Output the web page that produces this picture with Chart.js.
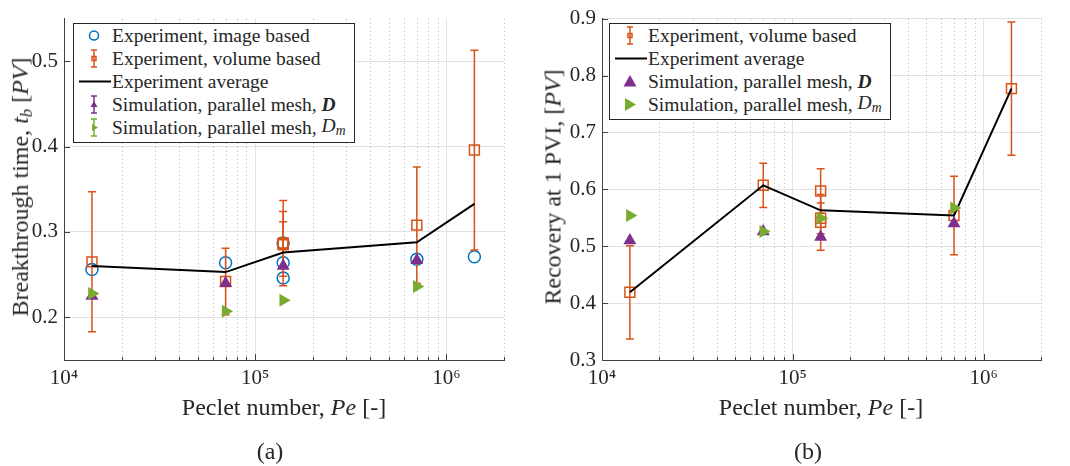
<!DOCTYPE html>
<html>
<head>
<meta charset="utf-8">
<script src="https://cdn.jsdelivr.net/npm/chart.js@4.4.1/dist/chart.umd.min.js"></script>
<style>
  body { margin: 0; background: #fff; font-family: "Liberation Serif", "Times New Roman", serif; color: #262626; }
  #wrap { position: relative; width: 1070px; height: 466px; overflow: hidden; }
  .panel { position: absolute; top: 0; width: 535px; height: 466px; }
  .panel canvas { position: absolute; left: 0; top: 0; }
  .ytitle, .xtitle, .caption { position: absolute; white-space: nowrap; font-size: 24px; }
  .ytitle { transform: translate(-50%, -50%) rotate(-90deg); }
  .xtitle, .caption { transform: translate(-50%, -50%); }
  .legend { position: absolute; top: 23px; background: #fff; border: 1px solid #262626; padding: 0 8px 3px 0; font-size: 19.5px; }
  .legend .row { height: 23px; display: flex; align-items: center; }
  .legend svg { width: 34px; height: 23px; margin-left: 3px; margin-right: 1px; flex: none; }
  sub { font-size: 70%; vertical-align: -0.25em; }
</style>
</head>
<body>
<div id="wrap">
  <div class="panel" style="left:0">
    <canvas id="chartA" width="535" height="466"></canvas>
    <div class="ytitle" style="left:22px; top:187px">Breakthrough time, <i>t<sub>b</sub></i> [<i>PV</i>]</div>
    <div class="xtitle" style="left:284px; top:407px">Peclet number, <i>Pe</i> [-]</div>
    <div class="caption" style="left:270px; top:451px">(a)</div>
    <div class="legend" style="left:73px">
      <div class="row"><svg viewBox="0 0 34 23"><circle cx="17" cy="11.5" r="4.5" fill="none" stroke="#0072BD" stroke-width="1.5"/></svg>Experiment, image based</div>
      <div class="row"><svg viewBox="0 0 34 23"><path d="M17 3V20M14 3H20M14 20H20" stroke="#D95319" stroke-width="1.5"/><rect x="15" y="9.5" width="4" height="4" fill="none" stroke="#D95319" stroke-width="1.5"/></svg>Experiment, volume based</div>
      <div class="row"><svg viewBox="0 0 34 23"><path d="M2 11.5H34" stroke="#000" stroke-width="2"/></svg>Experiment average</div>
      <div class="row"><svg viewBox="0 0 34 23"><path d="M17 3V20M14 3H20M14 20H20" stroke="#7E2F8E" stroke-width="1.5"/><path d="M17 8L20.5 14H13.5Z" fill="#7E2F8E"/></svg>Simulation, parallel mesh, <b><i>&nbsp;D</i></b></div>
      <div class="row"><svg viewBox="0 0 34 23"><path d="M17 3V20M14 3H20M14 20H20" stroke="#77AC30" stroke-width="1.5"/><path d="M15 8L21 11.5L15 15Z" fill="#77AC30"/></svg>Simulation, parallel mesh, <i>&nbsp;D<sub>m</sub></i></div>
    </div>
  </div>
  <div class="panel" style="left:535px">
    <canvas id="chartB" width="535" height="466"></canvas>
    <div class="ytitle" style="left:18px; top:187px">Recovery at 1 PVI, [<i>PV</i>]</div>
    <div class="xtitle" style="left:286px; top:407px">Peclet number, <i>Pe</i> [-]</div>
    <div class="caption" style="left:273px; top:451px">(b)</div>
    <div class="legend" style="left:74px">
      <div class="row"><svg viewBox="0 0 34 23"><path d="M17 3V20M14 3H20M14 20H20" stroke="#D95319" stroke-width="1.5"/><rect x="15" y="9.5" width="4" height="4" fill="none" stroke="#D95319" stroke-width="1.5"/></svg>Experiment, volume based</div>
      <div class="row"><svg viewBox="0 0 34 23"><path d="M2 11.5H34" stroke="#000" stroke-width="2"/></svg>Experiment average</div>
      <div class="row"><svg viewBox="0 0 34 23"><path d="M17 5L23.5 16.5H10.5Z" fill="#7E2F8E"/></svg>Simulation, parallel mesh, <b><i>&nbsp;D</i></b></div>
      <div class="row"><svg viewBox="0 0 34 23"><path d="M12 5L23 11.5L12 18Z" fill="#77AC30"/></svg>Simulation, parallel mesh, <i>&nbsp;D<sub>m</sub></i></div>
    </div>
  </div>
</div>
<script>
// Peclet numbers of the experiments / simulations
const peVol = [1.4e4, 7e4, 1.4e5, 1.4e5, 1.4e5, 7e5, 1.4e6];
const peAvg = [1.4e4, 7e4, 1.4e5, 7e5, 1.4e6];
const peSim = [1.4e4, 7e4, 1.4e5, 7e5];

// (a) breakthrough time [PV]
const tbImage = [0.256, 0.264, 0.287, 0.264, 0.246, 0.268, 0.271];
const tbVolume = [0.265, 0.242, 0.287, 0.286, 0.285, 0.308, 0.396];
const tbVolumeErr = [0.082, 0.039, 0.050, 0.038, 0.027, 0.068, 0.117];
const tbAverage = [0.260, 0.253, 0.276, 0.288, 0.333];
const tbSimD = [0.225, 0.240, 0.260, 0.267];
const tbSimDm = [0.228, 0.207, 0.220, 0.236];

// (b) recovery at 1 PVI [PV]
const recVolume = [0.419, 0.607, 0.597, 0.549, 0.542, 0.554, 0.777];
const recVolumeErr = [0.082, 0.039, 0.039, 0.027, 0.049, 0.069, 0.117];
const recAverage = [0.419, 0.607, 0.563, 0.554, 0.777];
const recSimD = [0.510, 0.526, 0.516, 0.540];
const recSimDm = [0.554, 0.526, 0.549, 0.567];

// axes
const xMin = 1e4, xMax = 2e6;
const xTickLabels = { 10000: '10⁴', 100000: '10⁵', 1000000: '10⁶' };
const yTicksA = [0.2, 0.3, 0.4, 0.5];
const yTicksB = [0.3, 0.4, 0.5, 0.6, 0.7, 0.8, 0.9];

const BLUE = '#0072BD', ORANGE = '#D95319', PURPLE = '#7E2F8E', GREEN = '#77AC30';
const AXIS = '#404040';
const SERIF = '"Liberation Serif", "Times New Roman", serif';

Chart.defaults.font.family = SERIF;

const pts = (xs, ys) => xs.map((x, i) => ({ x: x, y: ys[i] }));

// log grid: 1..9 x 10^n
const logGrid = [];
for (let e = 4; e <= 6; e++) {
    for (let m = 1; m <= 9; m++) {
        const v = m * Math.pow(10, e);
        if (v <= xMax) logGrid.push(v);
    }
}

// dotted minor grid, inner tick marks and error bars
const extras = {
    id: 'extras',
    beforeDatasetsDraw(chart) {
        const { ctx, chartArea: a, scales } = chart;
        ctx.save();
        ctx.strokeStyle = '#c8c8c8';
        ctx.lineWidth = 1;
        ctx.setLineDash([1.5, 2.5]);
        scales.x.ticks.forEach(t => {
            if (t.major) return;
            const px = Math.round(scales.x.getPixelForValue(t.value)) + 0.5;
            ctx.beginPath();
            ctx.moveTo(px, a.top);
            ctx.lineTo(px, a.bottom);
            ctx.stroke();
        });
        ctx.setLineDash([]);
        ctx.strokeStyle = AXIS;
        scales.x.ticks.forEach(t => {
            const px = Math.round(scales.x.getPixelForValue(t.value)) + 0.5;
            ctx.beginPath();
            ctx.moveTo(px, a.bottom);
            ctx.lineTo(px, a.bottom - (t.major ? 6 : 3));
            ctx.stroke();
        });
        scales.y.ticks.forEach(t => {
            const py = Math.round(scales.y.getPixelForValue(t.value)) + 0.5;
            ctx.beginPath();
            ctx.moveTo(a.left, py);
            ctx.lineTo(a.left + 6, py);
            ctx.stroke();
        });
        ctx.restore();
    },
    beforeDatasetDraw(chart, args) {
        const ds = chart.data.datasets[args.index];
        if (!ds.yErr) return;
        const { ctx, scales: { x, y } } = chart;
        ctx.save();
        ctx.strokeStyle = ds.borderColor;
        ctx.lineWidth = 1.5;
        ds.data.forEach((p, i) => {
            const px = x.getPixelForValue(p.x);
            const top = y.getPixelForValue(p.y + ds.yErr[i]);
            const bot = y.getPixelForValue(p.y - ds.yErr[i]);
            ctx.beginPath();
            ctx.moveTo(px, top); ctx.lineTo(px, bot);
            ctx.moveTo(px - 4, top); ctx.lineTo(px + 4, top);
            ctx.moveTo(px - 4, bot); ctx.lineTo(px + 4, bot);
            ctx.stroke();
        });
        ctx.restore();
    }
};

function makePanel(id, cfg) {
    const datasets = [];
    if (cfg.image) {
        datasets.push({
            type: 'scatter', data: pts(peVol, cfg.image), order: 5,
            pointStyle: 'circle', pointRadius: 6, borderColor: BLUE, borderWidth: 1.5,
            backgroundColor: 'rgba(0,0,0,0)'
        });
    }
    datasets.push({
        type: 'scatter', data: pts(peVol, cfg.volume), yErr: cfg.volumeErr, order: 4,
        pointStyle: 'rect', pointRadius: 7, borderColor: ORANGE, borderWidth: 1.5,
        backgroundColor: 'rgba(0,0,0,0)'
    });
    datasets.push({
        type: 'line', data: pts(peAvg, cfg.average), order: 3,
        borderColor: '#000', borderWidth: 2, pointRadius: 0, tension: 0, fill: false
    });
    datasets.push({
        type: 'scatter', data: pts(peSim, cfg.simD), order: 2,
        pointStyle: 'triangle', pointRadius: 7.5, borderWidth: 0,
        backgroundColor: PURPLE, borderColor: PURPLE
    });
    datasets.push({
        type: 'scatter', data: pts(peSim, cfg.simDm), order: 1,
        pointStyle: 'triangle', rotation: 90, pointRadius: 7.5, borderWidth: 0,
        backgroundColor: GREEN, borderColor: GREEN
    });

    const tickFont = { family: SERIF, size: 21 };

    new Chart(document.getElementById(id), {
        data: { datasets: datasets },
        plugins: [extras],
        options: {
            responsive: false,
            animation: false,
            devicePixelRatio: 1,
            layout: { padding: { left: 0, top: 14, right: cfg.right, bottom: 0 } },
            plugins: { legend: { display: false }, tooltip: { enabled: false } },
            scales: {
                x: {
                    type: 'logarithmic', min: xMin, max: xMax,
                    afterBuildTicks: s => {
                        s.ticks = logGrid.map(v => ({ value: v, major: !!xTickLabels[v] }));
                    },
                    afterFit: s => { s.height = 106; },
                    grid: {
                        drawTicks: false,
                        color: c => (c.tick && c.tick.major) ? '#e2e2e2' : 'rgba(0,0,0,0)'
                    },
                    border: { color: AXIS, width: 1 },
                    ticks: {
                        autoSkip: false, maxRotation: 0, padding: 6,
                        color: '#262626', font: tickFont,
                        callback: v => xTickLabels[v] || ''
                    }
                },
                y: {
                    min: cfg.yMin, max: cfg.yMax,
                    afterBuildTicks: s => {
                        s.ticks = cfg.yTicks.map(v => ({ value: v }));
                    },
                    afterFit: s => { s.width = cfg.left; },
                    grid: { drawTicks: false, color: '#e2e2e2' },
                    border: { color: AXIS, width: 1 },
                    ticks: {
                        padding: 6, color: '#262626', font: tickFont,
                        callback: v => v.toFixed(1)
                    }
                }
            }
        }
    });
}

makePanel('chartA', {
    image: tbImage, volume: tbVolume, volumeErr: tbVolumeErr, average: tbAverage,
    simD: tbSimD, simDm: tbSimDm,
    yMin: 0.15, yMax: 0.55, yTicks: yTicksA, left: 64, right: 31
});

makePanel('chartB', {
    volume: recVolume, volumeErr: recVolumeErr, average: recAverage,
    simD: recSimD, simDm: recSimDm,
    yMin: 0.3, yMax: 0.9, yTicks: yTicksB, left: 67, right: 29
});
</script>
</body>
</html>
